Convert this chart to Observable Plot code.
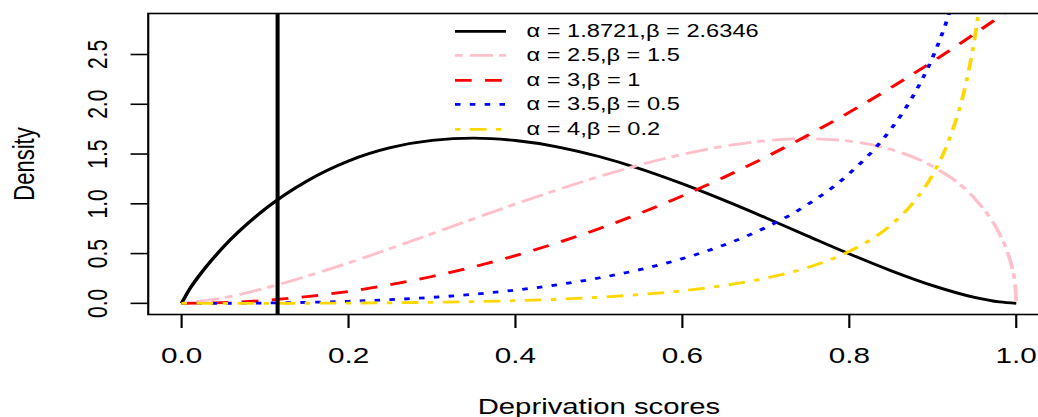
<!DOCTYPE html>
<html><head><meta charset="utf-8">
<script src="https://cdn.jsdelivr.net/npm/d3@7"></script>
<script src="https://cdn.jsdelivr.net/npm/@observablehq/plot@0.6"></script>
<style>
html,body{margin:0;padding:0;background:#fff;overflow:hidden;}
#wrap{position:relative;width:769px;height:417px;overflow:hidden;transform:scaleX(1.35);transform-origin:0 0;font-family:"Liberation Sans",Arial,sans-serif;color:#000;}
#legend{position:absolute;left:337px;top:18.5px;}
.row{display:flex;align-items:center;height:24.6px;}
.row svg{display:block;}
.row span{font-size:17.5px;line-height:24.6px;margin-left:15.2px;white-space:nowrap;}
</style></head><body><div id="wrap"></div>
<script>
// Series labels
const labels = ["α = 1.8721,β = 2.6346", "α = 2.5,β = 1.5", "α = 3,β = 1", "α = 3.5,β = 0.5", "α = 4,β = 0.2"];

// Density curves
const x1 = [0, 0.01, 0.02, 0.05, 0.1, 0.15, 0.2, 0.25, 0.3, 0.35, 0.4, 0.45, 0.5, 0.55, 0.6, 0.65, 0.7, 0.75, 0.8, 0.85, 0.9, 0.95, 0.98, 1];
const y1 = [0, 0.149, 0.267, 0.566, 0.948, 1.229, 1.431, 1.564, 1.638, 1.660, 1.636, 1.573, 1.475, 1.350, 1.201, 1.035, 0.859, 0.677, 0.497, 0.328, 0.178, 0.060, 0.014, 0];

const x2 = [0, 0.05, 0.1, 0.15, 0.2, 0.25, 0.3, 0.35, 0.4, 0.45, 0.5, 0.55, 0.6, 0.65, 0.7, 0.75, 0.8, 0.85, 0.9, 0.95, 0.97, 0.98, 0.99, 0.995, 0.999, 1];
const y2 = [0, 0.0555, 0.153, 0.273, 0.407, 0.551, 0.700, 0.850, 0.998, 1.140, 1.273, 1.394, 1.497, 1.579, 1.634, 1.654, 1.630, 1.546, 1.375, 1.055, 0.843, 0.699, 0.502, 0.357, 0.161, 0];

const x3 = [0, 0.05, 0.1, 0.15, 0.2, 0.25, 0.3, 0.35, 0.4, 0.45, 0.5, 0.55, 0.6, 0.65, 0.7, 0.75, 0.8, 0.85, 0.9, 0.95, 1];
const y3 = [0, 0.0075, 0.03, 0.0675, 0.12, 0.1875, 0.27, 0.3675, 0.48, 0.6075, 0.75, 0.9075, 1.08, 1.2675, 1.47, 1.6875, 1.92, 2.1675, 2.43, 2.7075, 3.0];

const x4 = [0, 0.05, 0.1, 0.15, 0.2, 0.25, 0.3, 0.35, 0.4, 0.45, 0.5, 0.55, 0.6, 0.65, 0.7, 0.75, 0.8, 0.85, 0.875, 0.9, 0.92, 0.94];
const y4 = [0, 0.0006, 0.0034, 0.0096, 0.0204, 0.0368, 0.0600, 0.0916, 0.1331, 0.1866, 0.2546, 0.3406, 0.4491, 0.5865, 0.7624, 0.9924, 1.3038, 1.7519, 2.0633, 2.4752, 2.9236, 3.562];

const x5 = [0, 0.05, 0.1, 0.15, 0.2, 0.25, 0.3, 0.35, 0.4, 0.45, 0.5, 0.55, 0.6, 0.65, 0.7, 0.75, 0.8, 0.85, 0.875, 0.9, 0.92, 0.94, 0.95, 0.955, 0.96];
const y5 = [0, 0.00004, 0.0003, 0.0011, 0.0027, 0.0055, 0.0101, 0.0170, 0.0271, 0.0414, 0.0613, 0.0887, 0.1266, 0.1791, 0.2531, 0.3601, 0.5225, 0.7888, 0.9957, 1.2953, 1.6541, 2.2206, 2.6526, 2.9318, 3.272];

// Reference line and axis ticks
const cutoff = [0.115];
const xTicks = [0, 0.2, 0.4, 0.6, 0.8, 1.0];
const yTicks = [0, 0.5, 1.0, 1.5, 2.0, 2.5];
const xTitle = "Deprivation scores";
const yTitle = "Density";

// Styles
const colors = ["#000000", "#FFC0CB", "#FF0000", "#0000FF", "#FFD700"];
const dashes = [null, "5.7,5.5,17,4.5", "12.4,9.9", "4.1,6.9", "4,7,12.4,7"];

const xs = [x1, x2, x3, x4, x5];
const ys = [y1, y2, y3, y4, y5];
const rows = [];
xs.forEach((xa, i) => xa.forEach((x, j) => rows.push({s: i, x, y: ys[i][j]})));

const lineMarks = labels.map((lab, i) => Plot.line(rows.filter(d => d.s === i), {
  x: "x", y: "y", stroke: colors[i], strokeWidth: 2.8,
  strokeDasharray: dashes[i] ?? undefined, strokeLinecap: "butt",
  curve: "monotone-x", clip: true
}));

const fmt = d3.format(".1f");
const chart = Plot.plot({
  width: 777, height: 417,
  marginLeft: 109.3, marginRight: 0, marginTop: 13, marginBottom: 103,
  x: {domain: [-0.04, 1.04]},
  y: {domain: [-0.112, 2.912]},
  style: {fontFamily: "'Liberation Sans', Arial, sans-serif", color: "#000", background: "#fff", maxWidth: "none", overflow: "visible"},
  marks: [
    ...lineMarks,
    Plot.ruleX(cutoff, {stroke: "#000", strokeWidth: 3}),
    Plot.frame({stroke: "#000", strokeWidth: 1.6}),
    Plot.axisX(xTicks, {tickSize: 14, tickPadding: 19, fontSize: 22, tickFormat: fmt, label: null, strokeWidth: 1.6}),
    Plot.axisY(yTicks, {tickSize: 12.6, tickFormat: () => "", label: null, strokeWidth: 1.6}),
    Plot.axisY(yTicks, {tickSize: 0, tickPadding: 37.5, fontSize: 21, rotate: -90, textAnchor: "middle", lineAnchor: "middle", tickFormat: fmt, label: null}),
    Plot.text([yTitle], {text: d => d, frameAnchor: "left", rotate: -90, dx: -84.9, lineAnchor: "bottom", textAnchor: "middle", fontSize: 22}),
    Plot.text([xTitle], {text: d => d, frameAnchor: "bottom", dy: 99, lineAnchor: "bottom", textAnchor: "middle", fontSize: 21.7})
  ]
});
chart.style.maxWidth = "none";
const wrap = document.getElementById("wrap");
wrap.appendChild(chart);

// Legend
const legend = d3.select(wrap).append("div").attr("id", "legend");
labels.forEach((lab, i) => {
  const row = legend.append("div").attr("class", "row");
  const sv = row.append("svg").attr("width", 37.8).attr("height", 24.6);
  sv.append("line").attr("x1", 0).attr("x2", 37.8).attr("y1", 12.3).attr("y2", 12.3)
    .attr("stroke", colors[i]).attr("stroke-width", 2.8)
    .attr("stroke-dasharray", dashes[i]);
  row.append("span").text(lab);
});
</script></body></html>
